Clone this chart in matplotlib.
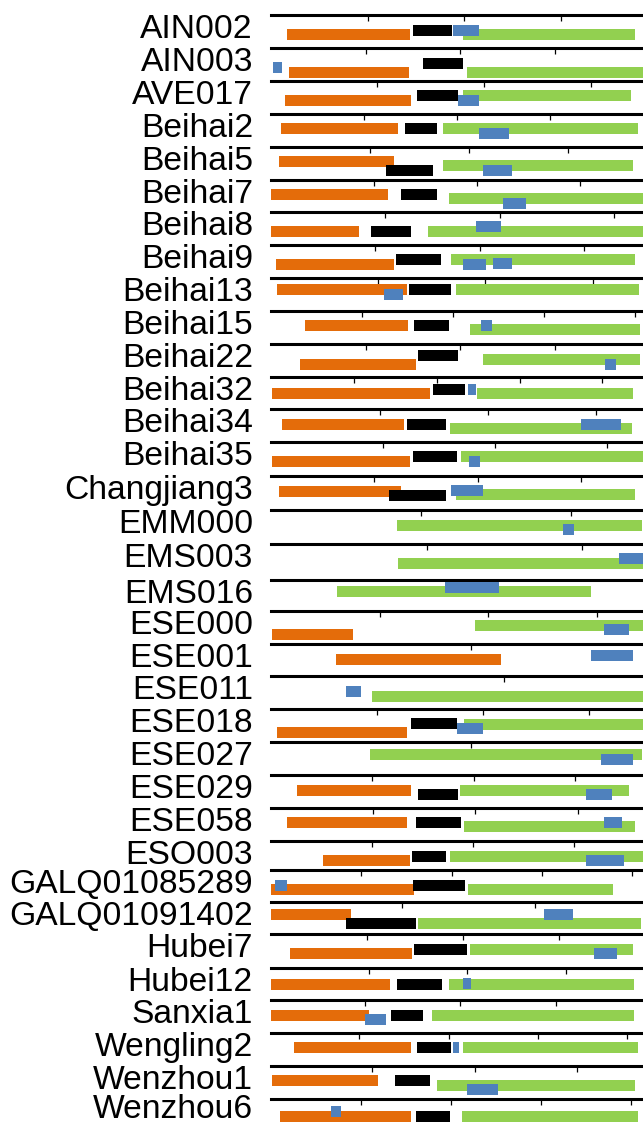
import matplotlib
matplotlib.use("Agg")
import matplotlib.pyplot as plt

# sample names, one panel each
labels = ["AIN002", "AIN003", "AVE017", "Beihai2", "Beihai5", "Beihai7", "Beihai8",
          "Beihai9", "Beihai13", "Beihai15", "Beihai22", "Beihai32", "Beihai34",
          "Beihai35", "Changjiang3", "EMM000", "EMS003", "EMS016", "ESE000", "ESE001",
          "ESE011", "ESE018", "ESE027", "ESE029", "ESE058", "ESO003", "GALQ01085289",
          "GALQ01091402", "Hubei7", "Hubei12", "Sanxia1", "Wengling2", "Wenzhou1",
          "Wenzhou6"]

# tick positions on the (unlabelled) position scale of each panel
ticks = [[325, 613, 904], [319, 601, 886], [352, 673, 994], [313, 592, 871],
         [331, 628, 925], [343, 652, 961], [376, 721, 1063], [346, 661, 973],
         [355, 676, 1000], [307, 580, 853, 1126], [319, 601, 886],
         [283, 532, 781, 1027], [361, 685, 1009], [370, 706, 1042],
         [343, 655, 964], [484, 934], [502, 967], [], [361, 685, 1012], [634],
         [733], [352, 670, 988], [634], [337, 643, 946], [340, 646, 955],
         [337, 640, 943], [304, 577, 847, 1117], [427, 826], [322, 610, 898],
         [328, 622, 919], [316, 601, 889], [298, 568, 835, 1102],
         [337, 646, 952], [304, 574, 844, 1114]]

# (start, end, lane) per panel; None = no bar
orange = [(81, 450, 41), (87, 447, 56), (75, 453, 41), (63, 414, 26), (57, 402, 26),
          (33, 384, 27), (33, 297, 42), (48, 402, 41), (51, 441, 17), (135, 444, 27),
          (120, 468, 45), (36, 510, 33), (66, 432, 29), (36, 450, 41), (57, 423, 29),
          None, None, None, (36, 279, 54), (228, 723, 30), None, (51, 441, 53),
          None, (111, 453, 29), (81, 441, 26), (189, 450, 41), (33, 462, 41),
          (30, 273, 21), (90, 456, 41), (33, 390, 33), (30, 327, 29), (102, 453, 26),
          (36, 354, 26), (60, 453, 35)]

black = [(459, 576, 29), (489, 609, 29), (471, 594, 26), (435, 531, 26), (378, 519, 53),
         (423, 531, 27), (333, 453, 42), (408, 543, 26), (447, 573, 17), (462, 567, 27),
         (474, 594, 18), (519, 615, 21), (441, 558, 29), (459, 591, 26), (387, 558, 41),
         None, None, None, None, None, None, (453, 591, 26), None, (474, 594, 41),
         (468, 603, 26), (456, 558, 29), (459, 615, 29), (258, 468, 48), (462, 621, 29),
         (411, 546, 33), (393, 489, 29), (471, 573, 26), (405, 510, 26), (468, 570, 35)]

green = [(609, 1125, 41), (621, 1149, 56), (609, 1113, 26), (549, 1134, 26),
         (549, 1119, 38), (567, 1149, 39), (504, 1149, 42), (573, 1125, 26),
         (588, 1137, 17), (630, 1140, 39), (669, 1140, 30), (651, 1119, 33),
         (570, 1116, 41), (603, 1149, 26), (588, 1125, 38), (411, 1146, 29),
         (414, 1149, 41), (231, 993, 18), (645, 1149, 27), None, (336, 1149, 44),
         (612, 1149, 30), (330, 1146, 20), (600, 1107, 29), (612, 1125, 38),
         (570, 1149, 29), (624, 1059, 41), (474, 1143, 48), (630, 1119, 29),
         (567, 1122, 33), (516, 1122, 29), (609, 1134, 26), (531, 1125, 41),
         (606, 1134, 35)]

blue = [[(579, 657, 29)], [(39, 66, 41)], [(594, 657, 41)], [(657, 747, 41)],
        [(669, 756, 53)], [(729, 798, 54)], [(648, 723, 27)],
        [(609, 678, 41), (699, 756, 38)], [(372, 429, 32)], [(663, 696, 27)],
        [(1035, 1068, 45)], [(624, 648, 21)], [(963, 1083, 29)], [(627, 660, 41)],
        [(573, 669, 26)], [(909, 942, 41)], [(1077, 1149, 26)], [(555, 717, 6)],
        [(1032, 1107, 39)], [(993, 1119, 18)], [(258, 303, 29)], [(591, 669, 41)],
        [(1023, 1119, 35)], [(978, 1056, 41)], [(1032, 1086, 26)], [(978, 1092, 41)],
        [(45, 81, 29)], [(852, 939, 21)], [(1002, 1071, 41)], [(609, 633, 30)],
        [(315, 378, 41)], [(579, 597, 26)], [(621, 714, 53)], [(213, 243, 20)]]

# layout (pixels from top of figure)
row_tops = [15.3, 48.3, 81.3, 114.3, 147.3, 180, 212, 245.3, 278.3, 311, 344, 377,
            409.3, 442.3, 476.3, 510.3, 544.3, 580, 611, 644, 676.3, 709.3, 742.3,
            775.3, 808.3, 841.3, 870.3, 902, 934.3, 968, 1000.3, 1033.3, 1066.3,
            1099.3]

W, H = 643, 1125
row_h = 33
colors = {"orange": "#E46C0A", "black": "#000000", "green": "#92D050", "blue": "#4F81BD"}

fig = plt.figure(figsize=(W / 100, H / 100), dpi=100)


def draw_bar(ax, bar, color, z):
    if bar is None:
        return
    x0, x1, lane = bar
    ax.barh(lane + 16, x1 - x0, left=x0, height=32, color=color, zorder=z, linewidth=0)


for i, name in enumerate(labels):
    top = row_tops[i]
    ax = fig.add_axes([271 / W, 1 - (top + row_h) / H, 372 / W, row_h / H])
    ax.set_xlim(33, 1149)
    ax.set_ylim(row_h * 3, 0)
    for s in ["left", "right", "bottom"]:
        ax.spines[s].set_visible(False)
    ax.spines["top"].set_linewidth(2.2)
    ax.xaxis.tick_top()
    ax.set_xticks(ticks[i])
    ax.tick_params(axis="x", direction="in", length=4.5, width=0.9, labeltop=False)
    ax.set_yticks([])
    ax.patch.set_alpha(0)

    draw_bar(ax, orange[i], colors["orange"], 2)
    draw_bar(ax, black[i], colors["black"], 3)
    draw_bar(ax, green[i], colors["green"], 4)
    for b in blue[i]:
        draw_bar(ax, b, colors["blue"], 5)

    # keep the last label's descent inside the figure
    base = min(top + 23, H - 7.5)
    fig.text(253 / W, 1 - base / H, name, ha="right", va="baseline",
             fontsize=24.2, family="Liberation Sans")

fig.savefig("out.png", dpi=100)
